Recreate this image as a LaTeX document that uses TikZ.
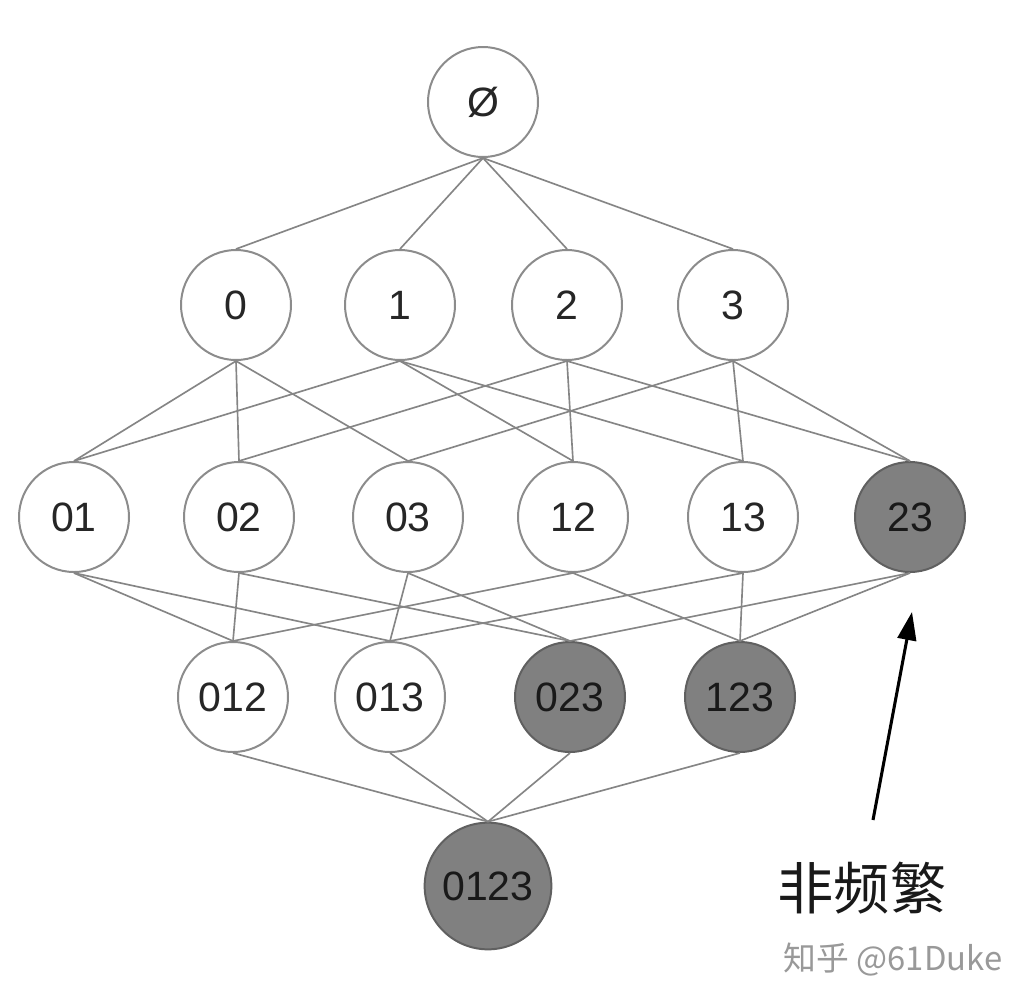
\documentclass[tikz,border=0pt]{standalone}
\usepackage{fontspec}
\setmainfont{Liberation Sans}
\newfontfamily\cjk{Noto Sans CJK SC}
\usetikzlibrary{arrows.meta}
\definecolor{edgegray}{HTML}{858585}
\definecolor{ringgray}{HTML}{8C8C8C}
\definecolor{darkfill}{HTML}{808080}
\definecolor{darkring}{HTML}{606060}
\tikzset{
  setnode/.style={circle, draw=ringgray, line width=1.7pt, fill=white, minimum size=3.3cm, inner sep=0pt, font=\fontsize{35}{40}\selectfont, text=black!85},
  infreq/.style={setnode, fill=darkfill, draw=darkring, text=black!90},
  edge/.style={draw=edgegray, line width=1.4pt},
}
\begin{document}
\begin{tikzpicture}[x=0.03cm, y=-0.03cm]
\useasboundingbox (0,0) rectangle (1036,1002);
\fill[white] (0,0) rectangle (1036,1002);
\node[setnode] (e) at (483,102) {Ø};
\node[setnode] (n0) at (236,305) {0};
\node[setnode] (n1) at (400,305) {1};
\node[setnode] (n2) at (567,305) {2};
\node[setnode] (n3) at (733,305) {3};
\node[setnode] (n01) at (74,517) {01};
\node[setnode] (n02) at (239,517) {02};
\node[setnode] (n03) at (408,517) {03};
\node[setnode] (n12) at (573,517) {12};
\node[setnode] (n13) at (743,517) {13};
\node[infreq] (n23) at (910,517) {23};
\node[setnode] (n012) at (233,697) {012};
\node[setnode] (n013) at (390,697) {013};
\node[infreq] (n023) at (570,697) {023};
\node[infreq] (n123) at (740,697) {123};
\node[infreq, minimum size=3.8cm] (n0123) at (488,886) {0123};
\foreach \a/\b in {e/n0,e/n1,e/n2,e/n3,
  n0/n01,n0/n02,n0/n03,n1/n01,n1/n12,n1/n13,n2/n02,n2/n12,n2/n23,n3/n03,n3/n13,n3/n23,
  n01/n012,n01/n013,n02/n012,n02/n023,n03/n013,n03/n023,n12/n012,n12/n123,n13/n013,n13/n123,n23/n023,n23/n123,
  n012/n0123,n013/n0123,n023/n0123,n123/n0123}
  \draw[edge] (\a.south) -- (\b.north);
\coordinate (tail) at (873,820);
\coordinate (tip) at (912,612);
\draw[line width=2.6pt, -{Triangle[length=24pt,width=16pt]}] (tail) -- (tip);
\node[font=\cjk\fontsize{48}{52}\selectfont, text=black!90] (label) at (862,888) {非频繁};
\node[font=\cjk\fontsize{28}{32}\selectfont, text=black!40] (wm) at (893,960) {知乎 @61Duke};
\end{tikzpicture}
\end{document}
